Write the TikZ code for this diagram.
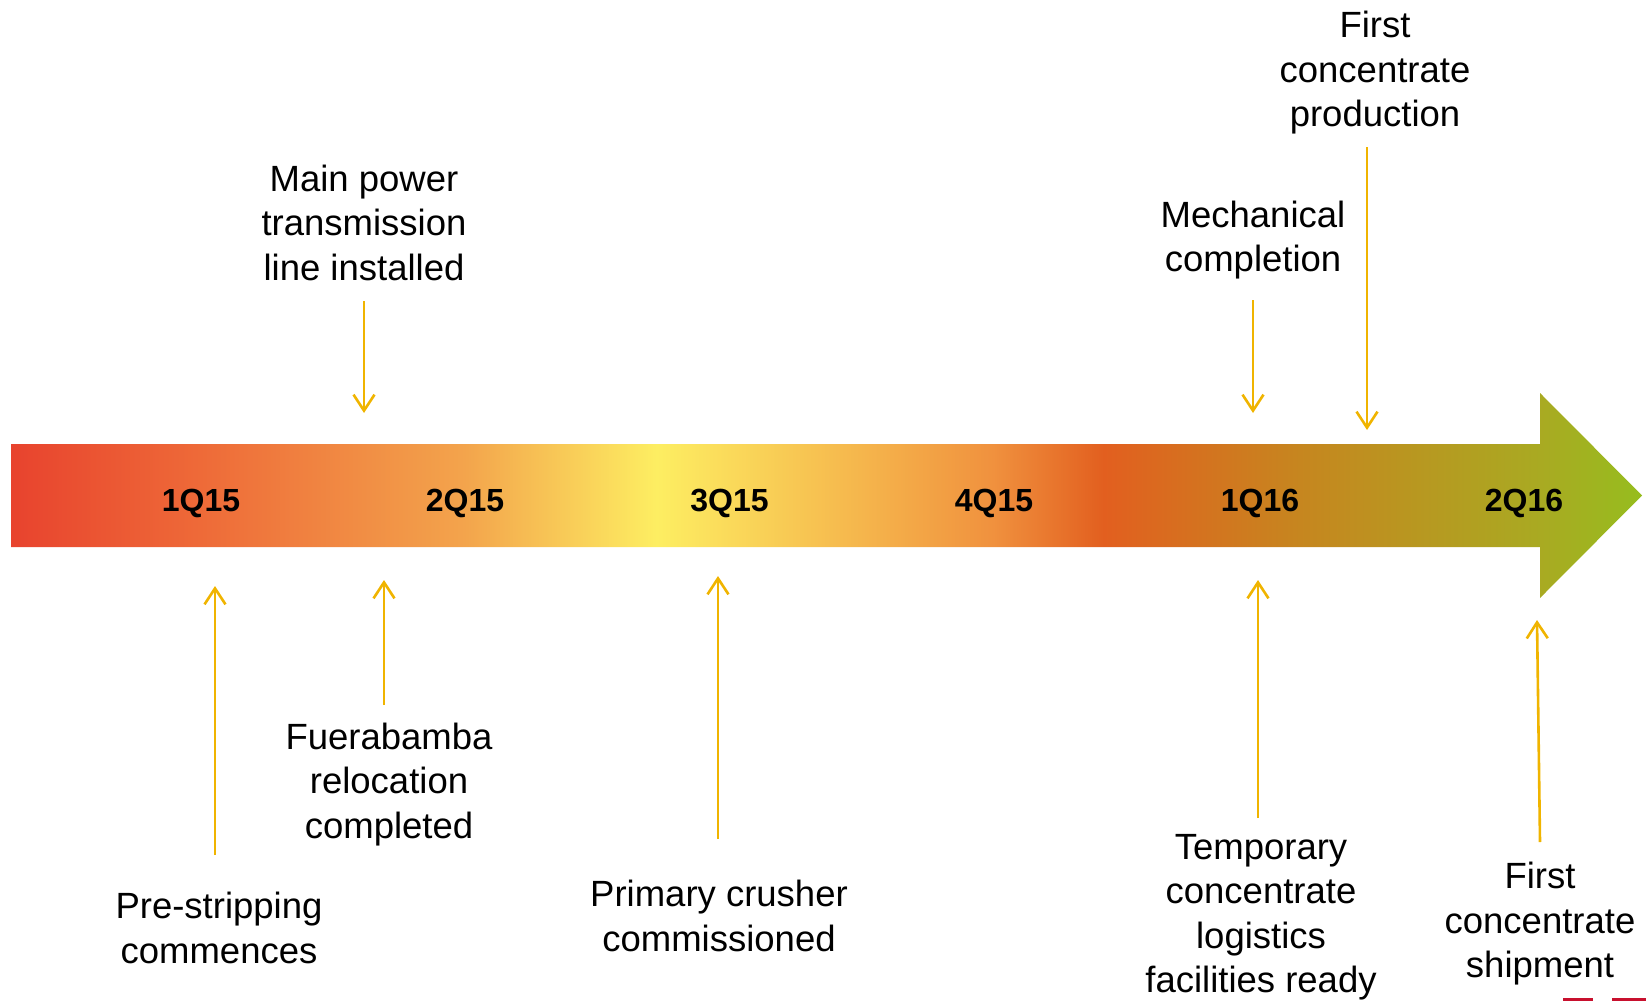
\documentclass[tikz,border=0pt]{standalone}
\usepackage{fontspec}
\setmainfont{Liberation Sans}
\usetikzlibrary{arrows.meta}
\definecolor{gold}{HTML}{F0B400}
\definecolor{logored}{HTML}{C8102E}
\definecolor{g0}{HTML}{E8432E}
\definecolor{g1}{HTML}{EE6A38}
\definecolor{g2}{HTML}{F3A44C}
\definecolor{g3}{HTML}{FDEE62}
\definecolor{g4}{HTML}{F0913E}
\definecolor{g5}{HTML}{E25F1F}
\definecolor{g6}{HTML}{C6861F}
\definecolor{g7}{HTML}{A9AA22}
\definecolor{g8}{HTML}{96BD1E}
\pgfdeclarehorizontalshading{barshade}{100bp}{color(0bp)=(g0); color(25bp)=(g0); color(30.8bp)=(g1); color(38.9bp)=(g2); color(44.8bp)=(g3); color(55.1bp)=(g4); color(58.5bp)=(g5); color(64.5bp)=(g6); color(71.9bp)=(g7); color(75bp)=(g8); color(100bp)=(g8)}
\tikzset{
  lbl/.style={font=\fontsize{36.5}{44.5}\selectfont, align=center, inner sep=0pt, anchor=north,
    execute at begin node=\strut, execute at end node=\strut},
  qlbl/.style={font=\fontsize{32}{38}\selectfont\bfseries, inner sep=0pt, anchor=base},
  conn/.style={draw=gold, line width=2.6pt, -{Straight Barb[length=16pt,width=21pt]}}
}
\begin{document}
\begin{tikzpicture}[x=1pt,y=-1pt]
\useasboundingbox (0,0) rectangle (1646,1001);
% timeline arrow
\path[shading=barshade] (11,444) -- (1540,444) -- (1540,393) -- (1642,495.5) -- (1540,598) -- (1540,547) -- (11,547) -- cycle;
\node[qlbl] (q1) at (201,511.5) {1Q15};
\node[qlbl] (q2) at (465,511.5) {2Q15};
\node[qlbl] (q3) at (729.5,511.5) {3Q15};
\node[qlbl] (q4) at (994,511.5) {4Q15};
\node[qlbl] (q5) at (1260,511.5) {1Q16};
\node[qlbl] (q6) at (1524,511.5) {2Q16};
% top labels
\node[lbl] (mp) at (364,164.4) {Main power\\transmission\\line installed};
\node[lbl] (mc) at (1253,200.4) {Mechanical\\completion};
\node[lbl] (fp) at (1375,11) {First\\concentrate\\production};
% bottom labels
\node[lbl] (ps) at (219,892) {Pre-stripping\\commences};
\node[lbl] (fr) at (389,722.4) {Fuerabamba\\relocation\\completed};
\node[lbl] (pc) at (719,880) {Primary crusher\\commissioned};
\node[lbl] (tc) at (1261,834) {Temporary\\concentrate\\logistics\\facilities ready};
\node[lbl] (fs) at (1540,862) {First\\concentrate\\shipment};
% connector end points
\coordinate (mpA) at (364,301); \coordinate (mpB) at (364,413);
\coordinate (mcA) at (1253,300); \coordinate (mcB) at (1253,413);
\coordinate (fpA) at (1367,147); \coordinate (fpB) at (1367,430);
\coordinate (psA) at (215,855); \coordinate (psB) at (215,586);
\coordinate (frA) at (384,705); \coordinate (frB) at (384,580);
\coordinate (pcA) at (718,839); \coordinate (pcB) at (718,576);
\coordinate (tcA) at (1258,818); \coordinate (tcB) at (1258,580);
\coordinate (fsA) at (1540,842); \coordinate (fsB) at (1537,620);
\draw[conn] (mpA) -- (mpB);
\draw[conn] (mcA) -- (mcB);
\draw[conn] (fpA) -- (fpB);
\draw[conn] (psA) -- (psB);
\draw[conn] (frA) -- (frB);
\draw[conn] (pcA) -- (pcB);
\draw[conn] (tcA) -- (tcB);
\draw[conn] (fsA) -- (fsB);
% cut-off logo marks
\fill[logored] (1563,998) rectangle (1593,1001);
\fill[logored] (1612,998) rectangle (1646,1001);
\end{tikzpicture}
\end{document}
